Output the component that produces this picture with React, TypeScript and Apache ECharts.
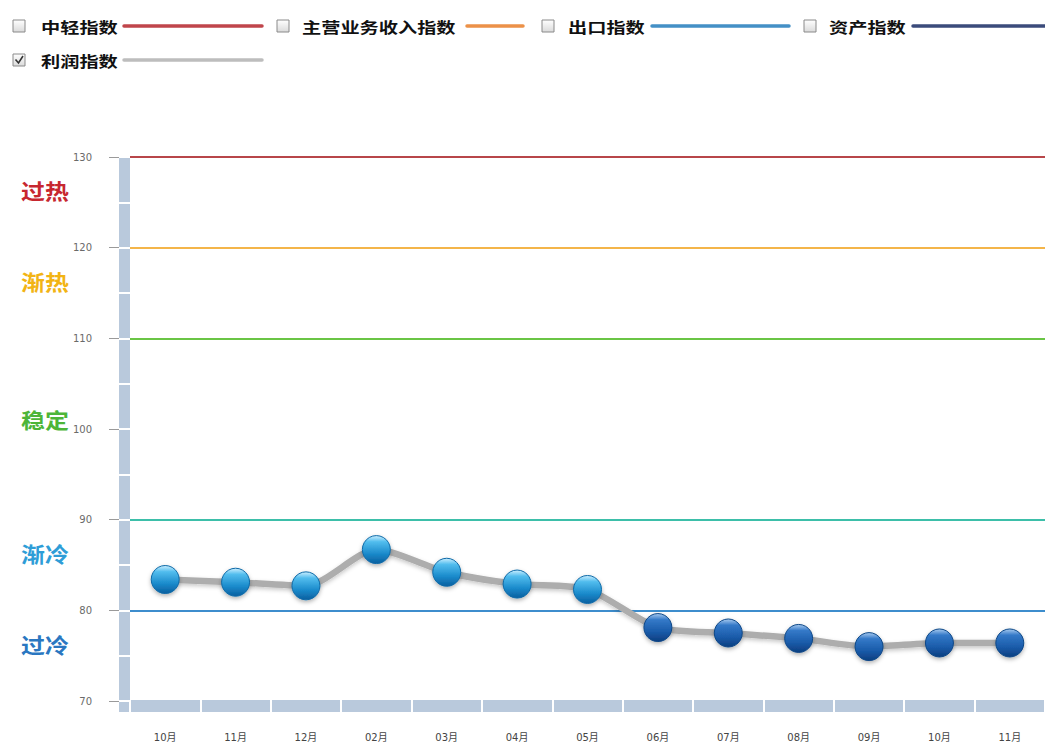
import React, { useEffect, useRef } from 'react';
import * as echarts from 'echarts';

// ---- data ----
const months = ['10月', '11月', '12月', '02月', '03月', '04月', '05月', '06月', '07月', '08月', '09月', '10月', '11月'];
const profitIndex = [83.4, 83.1, 82.7, 86.7, 84.2, 82.9, 82.3, 78.1, 77.5, 76.9, 76.0, 76.4, 76.4];
const yMin = 70;
const yMax = 130;
const yStep = 10;
const thresholdValues = [130, 120, 110, 90, 80];
const thresholdColors = ['#B8464A', '#F4B54A', '#6AC545', '#3DBFA9', '#3D8DCD'];
const zoneLabels = ['过热', '渐热', '稳定', '渐冷', '过冷'];
const zoneColors = ['#C7272F', '#F2B414', '#4DB538', '#2E9DD7', '#2A77C1'];
const legendNames = ['中轻指数', '主营业务收入指数', '出口指数', '资产指数', '利润指数'];
const legendColors = ['#C0454B', '#EC9148', '#4490C6', '#3B4B7B', '#BDBDBD'];
const legendChecked = [false, false, false, false, true];

// ---- layout (pixels) ----
const legendLayout = [
  { box: 13, y: 26, text: 41, x1: 124, x2: 262 },
  { box: 277, y: 26, text: 302, x1: 467, x2: 523 },
  { box: 542, y: 26, text: 568, x1: 652, x2: 789 },
  { box: 804, y: 26, text: 829, x1: 913, x2: 1045 },
  { box: 13, y: 60, text: 41, x1: 124, x2: 262 },
];
const zoneLabelY = [190, 281, 419, 553, 644];

const BAR = '#B9C9DC';

export default function App() {
  const ref = useRef<HTMLDivElement>(null);

  useEffect(() => {
    document.body.style.margin = '0';
    const chart = echarts.init(ref.current!, null, { renderer: 'svg' });

    const lightBall = {
      color: {
        type: 'linear', x: 0, y: 0, x2: 0, y2: 1,
        colorStops: [
          { offset: 0, color: '#CDEFFF' },
          { offset: 0.22, color: '#52BDEE' },
          { offset: 0.65, color: '#1A8ACB' },
          { offset: 1, color: '#0B5F9F' },
        ],
      },
      borderColor: '#0E6AA8',
      borderWidth: 1,
      shadowBlur: 4,
      shadowOffsetY: 2,
      shadowColor: 'rgba(0,0,0,0.3)',
    };
    const darkBall = {
      color: {
        type: 'linear', x: 0, y: 0, x2: 0, y2: 1,
        colorStops: [
          { offset: 0, color: '#A9CBF0' },
          { offset: 0.22, color: '#3479C8' },
          { offset: 0.65, color: '#1A5BA9' },
          { offset: 1, color: '#0C3E80' },
        ],
      },
      borderColor: '#0D4787',
      borderWidth: 1,
      shadowBlur: 4,
      shadowOffsetY: 2,
      shadowColor: 'rgba(0,0,0,0.3)',
    };

    const graphics: any[] = [];
    legendNames.forEach((name, i) => {
      const L = legendLayout[i];
      graphics.push({
        type: 'rect',
        x: L.box,
        y: L.y - 6,
        shape: { x: 0, y: 0, width: 12, height: 12 },
        style: {
          fill: {
            type: 'linear', x: 0, y: 0, x2: 0, y2: 1,
            colorStops: [
              { offset: 0, color: '#FFFFFF' },
              { offset: 1, color: '#DADADA' },
            ],
          },
          stroke: '#8A8A8A',
          lineWidth: 1,
        },
      });
      if (legendChecked[i]) {
        graphics.push({
          type: 'polyline',
          shape: { points: [[L.box + 2.5, L.y - 0.5], [L.box + 5.5, L.y + 3], [L.box + 10, L.y - 4]] },
          style: { stroke: '#333', lineWidth: 1.6, fill: 'none' },
        });
      }
      graphics.push({
        type: 'text',
        x: L.text,
        y: L.y,
        scaleX: 1.28,
        style: {
          text: name,
          fill: '#111',
          font: 'bold 15px "Noto Sans CJK SC", sans-serif',
          verticalAlign: 'middle',
          align: 'left',
        },
      });
      graphics.push({
        type: 'line',
        shape: { x1: L.x1, y1: L.y, x2: L.x2, y2: L.y },
        style: { stroke: legendColors[i], lineWidth: 3.5, lineCap: 'round' },
      });
    });
    zoneLabels.forEach((t, i) => {
      graphics.push({
        type: 'text',
        x: 21,
        y: zoneLabelY[i],
        scaleX: 1.14,
        style: {
          text: t,
          fill: zoneColors[i],
          font: 'bold 21px "Noto Sans CJK SC", sans-serif',
          verticalAlign: 'middle',
          align: 'left',
        },
      });
    });
    graphics.push({
      type: 'rect',
      x: 119,
      y: 702,
      shape: { x: 0, y: 0, width: 11, height: 10 },
      style: { fill: BAR },
    });

    chart.setOption({
      animation: false,
      backgroundColor: '#fff',
      grid: { left: 130, right: 0, top: 157, bottom: 46 },
      xAxis: [
        {
          type: 'category',
          data: months,
          boundaryGap: true,
          position: 'bottom',
          offset: 5,
          axisLine: { show: true, lineStyle: { color: BAR, width: 12, cap: 'butt' } },
          axisTick: { show: false },
          axisLabel: {
            margin: 26,
            fontSize: 10,
            color: '#444',
            fontFamily: 'DejaVu Sans, "Noto Sans CJK SC", sans-serif',
          },
          splitLine: { show: false },
          z: 2,
        },
        {
          type: 'category',
          data: months,
          boundaryGap: true,
          position: 'bottom',
          offset: -1,
          axisLine: { show: false },
          axisTick: { show: true, inside: false, length: 12, lineStyle: { color: '#fff', width: 2 } },
          axisLabel: { show: false },
          splitLine: { show: false },
          z: 5,
        },
      ],
      yAxis: [
        {
          type: 'value',
          min: yMin,
          max: yMax,
          interval: yStep,
          position: 'left',
          offset: 6,
          axisLine: { show: true, lineStyle: { color: BAR, width: 11, cap: 'butt' } },
          axisTick: { show: true, length: 15, lineStyle: { color: '#9A9A9A', width: 1 } },
          axisLabel: {
            margin: 32,
            fontSize: 10,
            color: '#6A6A6A',
            fontFamily: 'DejaVu Sans, sans-serif',
          },
          splitLine: { show: false },
          z: 2,
        },
        {
          type: 'value',
          min: yMin,
          max: yMax,
          interval: yStep / 2,
          position: 'left',
          offset: 11,
          axisLine: { show: false },
          axisTick: { show: true, inside: true, length: 11, lineStyle: { color: '#fff', width: 2 } },
          axisLabel: { show: false },
          splitLine: { show: false },
          z: 5,
        },
      ],
      graphic: graphics,
      series: [
        {
          name: '利润指数',
          type: 'line',
          xAxisIndex: 0,
          yAxisIndex: 0,
          smooth: 0.25,
          symbol: 'circle',
          symbolSize: 28,
          lineStyle: {
            color: '#ADADAD',
            width: 6.5,
            shadowBlur: 4,
            shadowOffsetY: 2,
            shadowColor: 'rgba(0,0,0,0.22)',
          },
          itemStyle: lightBall,
          data: profitIndex.map((v) => ({ value: v, itemStyle: v < 80 ? darkBall : lightBall })),
          markLine: {
            silent: true,
            symbol: 'none',
            label: { show: false },
            z: 1,
            data: thresholdValues.map((v, i) => ({
              yAxis: v,
              lineStyle: { color: thresholdColors[i], width: 2, type: 'solid' },
            })),
          },
          z: 3,
        },
      ],
    });

    return () => chart.dispose();
  }, []);

  return <div ref={ref} style={{ width: 1045, height: 747 }} />;
}
